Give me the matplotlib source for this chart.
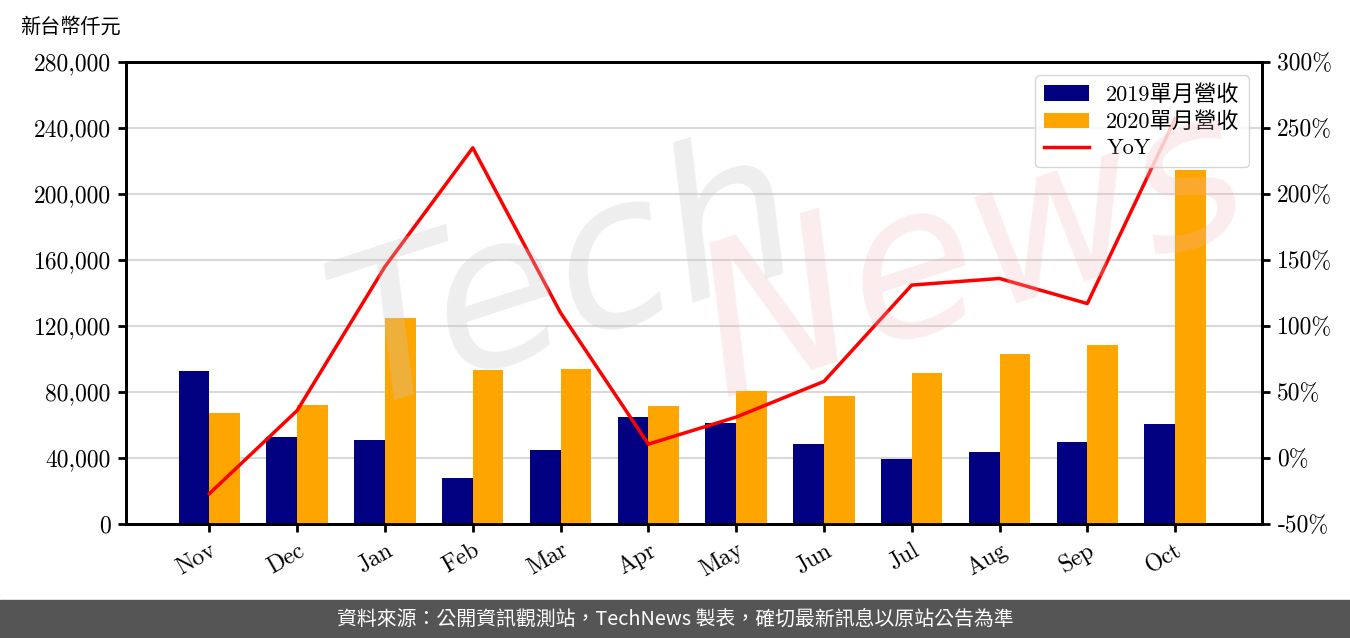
import numpy as np
import matplotlib.pyplot as plt
from matplotlib.ticker import FuncFormatter

plt.rcParams['font.family'] = ['cmr10', 'Noto Sans CJK TC', 'DejaVu Sans']
plt.rcParams['axes.formatter.use_mathtext'] = True

months = ['Nov', 'Dec', 'Jan', 'Feb', 'Mar', 'Apr', 'May', 'Jun', 'Jul', 'Aug', 'Sep', 'Oct']
rev_2019 = [93000, 53000, 51000, 27800, 45000, 65000, 61500, 48500, 39500, 43800, 49800, 60800]
rev_2020 = [67500, 72300, 125000, 93500, 94200, 71800, 80800, 77800, 91800, 103300, 108700, 214500]
yoy = [-27, 36, 145, 235, 110, 10.5, 31, 58, 131, 136, 117, 257]

fig = plt.figure(figsize=(13.5, 6.38), dpi=100)
ax = fig.add_axes([126 / 1350, 1 - 524 / 638, 1136 / 1350, 462 / 638])
ax2 = ax.twinx()

x = np.arange(len(months))
w = 0.35
ax.bar(x - w / 2, rev_2019, w, color='#000080', label='2019單月營收', zorder=3)
ax.bar(x + w / 2, rev_2020, w, color='#FFA500', label='2020單月營收', zorder=3)
ax2.plot(x, yoy, color='red', lw=2.5, label='YoY', zorder=4)

ax.set_xlim(-0.95, 11.99)
ax.set_ylim(0, 280000)
ax.set_yticks(np.arange(0, 280001, 40000))
ax.yaxis.set_major_formatter(FuncFormatter(lambda v, p: f'{int(v):,}'))
ax.grid(axis='y', color='#d9d9d9', lw=1.5, zorder=0)
ax.set_axisbelow(True)
ax.set_xticks(x)
ax.set_xticklabels(months, rotation=30, ha='right', rotation_mode='anchor')

ax2.set_ylim(-50, 300)
ax2.set_yticks(np.arange(-50, 301, 50))
ax2.yaxis.set_major_formatter(FuncFormatter(lambda v, p: f'{int(v)}%'))

for a in (ax, ax2):
    a.tick_params(labelsize=17, width=2, length=6, direction='out', pad=5)
    for s in a.spines.values():
        s.set_linewidth(2)

# watermark
fig.text(0.42, 0.56, 'Tech', fontsize=150, color='#c8c8c8', alpha=0.3,
         rotation=18, ha='center', va='center', style='italic', family='DejaVu Sans', zorder=0)
fig.text(0.72, 0.60, 'News', fontsize=150, color='#f0b8b8', alpha=0.25,
         rotation=18, ha='center', va='center', style='italic', family='DejaVu Sans', zorder=0)

h1, l1 = ax.get_legend_handles_labels()
h2, l2 = ax2.get_legend_handles_labels()
ax2.legend(h1 + h2, l1 + l2, loc='upper right', fontsize=16, framealpha=0.8,
           handlelength=2.0, borderpad=0.4, labelspacing=0.3, borderaxespad=0.6)

fig.text(20 / 1350, 1 - 27 / 638, '新台幣仟元', fontsize=14.5, va='center', ha='left')

fig.patches.append(plt.Rectangle((0, 0), 1, 38 / 638, transform=fig.transFigure,
                                 color='#555555', zorder=0))
fig.text(0.5, 19 / 638, '資料來源：公開資訊觀測站，TechNews 製表，確切最新訊息以原站公告為準',
         color='white', fontsize=14.3, ha='center', va='center',
         family=['Noto Sans CJK TC', 'DejaVu Sans'])

fig.savefig('out.png', dpi=100)
